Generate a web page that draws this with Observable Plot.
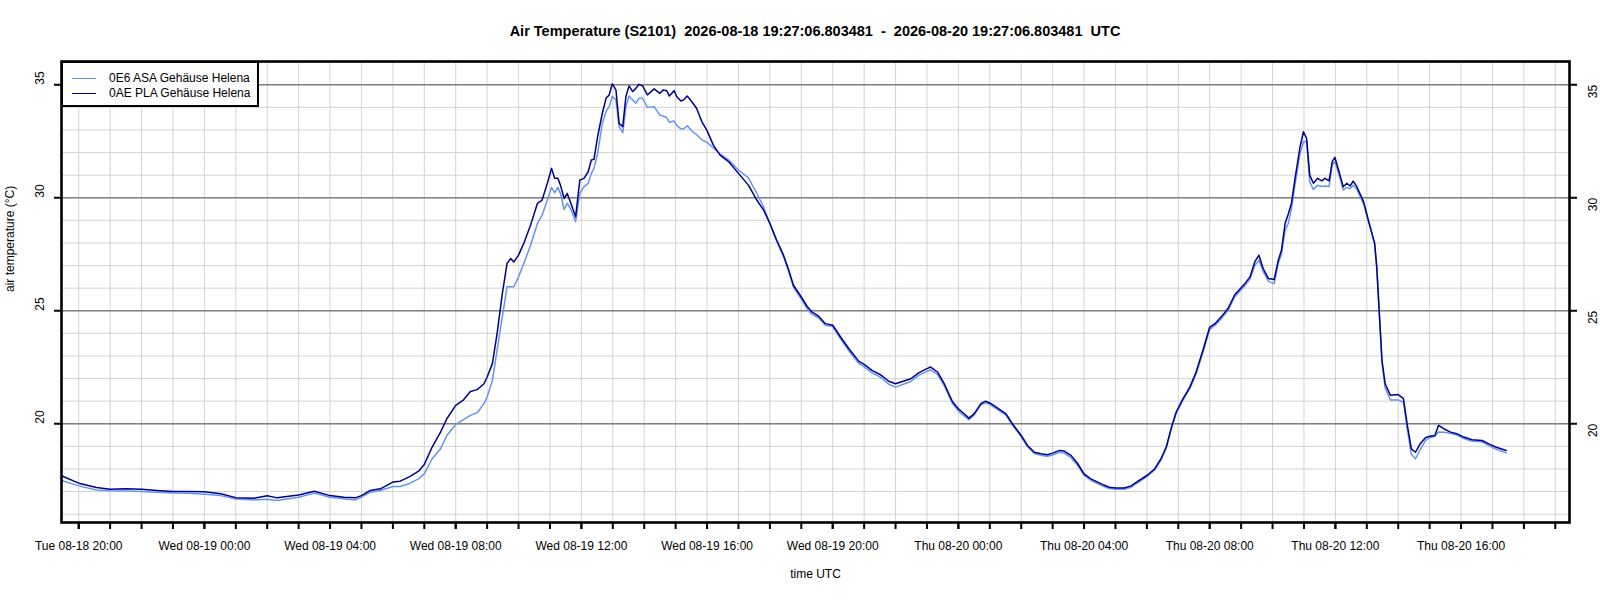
<!DOCTYPE html>
<html>
<head>
<meta charset="utf-8">
<script src="https://cdn.jsdelivr.net/npm/d3@7"></script>
<script src="https://cdn.jsdelivr.net/npm/@observablehq/plot@0.6"></script>
<style>
  body { margin: 0; background: #fff; font-family: "Liberation Sans", Arial, sans-serif; }
  #wrap { position: relative; width: 1600px; height: 600px; }
  #title { height: 48px; box-sizing: border-box; padding: 24px 31px 0 61px; font: bold 14.5px "Liberation Sans", Arial, sans-serif; line-height: 14px; text-align: center; white-space: pre; color: #000; }
  #legend { position: absolute; left: 61px; top: 61px; width: 198px; height: 46px; box-sizing: border-box; border: 2px solid #000; background: #fff; padding-top: 8px; font: 12px "Liberation Sans", Arial, sans-serif; }
  #legend .row { height: 15px; line-height: 15px; display: flex; align-items: center; }
  #legend .sw { display: inline-block; width: 24px; height: 0; border-top: 1.6px solid; margin-left: 9px; margin-right: 13px; }
</style>
</head>
<body>
<div id="wrap">
  <div id="title"></div>
  <div id="chart"></div>
  <div id="legend"></div>
</div>
<script>
const titleText = "Air Temperature (S2101)  2026-08-18 19:27:06.803481  -  2026-08-20 19:27:06.803481  UTC";
const seriesNames = ["0E6 ASA Gehäuse Helena", "0AE PLA Gehäuse Helena"];
const seriesColors = ["#6495ED", "#00008B"];
const yLabel = "air temperature (°C)";
const xLabel = "time UTC";
const domainStart = "2026-08-18T19:27:06.803Z";
const domainEnd = "2026-08-20T19:27:06.803Z";
const yDomain = [15.63, 36.03];
const yMajorTicks = [20, 25, 30, 35];

const times = [
  "2026-08-18T19:27","2026-08-18T20:00","2026-08-18T20:34","2026-08-18T21:00","2026-08-18T21:30","2026-08-18T22:00","2026-08-18T22:30","2026-08-18T23:00","2026-08-18T23:30",
  "2026-08-19T00:00","2026-08-19T00:31","2026-08-19T01:00","2026-08-19T01:34","2026-08-19T02:00","2026-08-19T02:19","2026-08-19T03:00","2026-08-19T03:30","2026-08-19T04:00",
  "2026-08-19T04:26","2026-08-19T04:48","2026-08-19T05:00","2026-08-19T05:17","2026-08-19T05:36","2026-08-19T06:00","2026-08-19T06:14","2026-08-19T06:33","2026-08-19T06:49",
  "2026-08-19T07:00","2026-08-19T07:15","2026-08-19T07:31","2026-08-19T07:43","2026-08-19T08:00","2026-08-19T08:15","2026-08-19T08:28","2026-08-19T08:41","2026-08-19T08:54",
  "2026-08-19T09:00","2026-08-19T09:10","2026-08-19T09:19","2026-08-19T09:29","2026-08-19T09:38","2026-08-19T09:45","2026-08-19T09:51","2026-08-19T10:00","2026-08-19T10:10",
  "2026-08-19T10:23","2026-08-19T10:36","2026-08-19T10:45","2026-08-19T10:55","2026-08-19T11:03","2026-08-19T11:09","2026-08-19T11:15","2026-08-19T11:20","2026-08-19T11:27",
  "2026-08-19T11:33","2026-08-19T11:40","2026-08-19T11:49","2026-08-19T11:57","2026-08-19T12:05","2026-08-19T12:13","2026-08-19T12:19","2026-08-19T12:24","2026-08-19T12:31",
  "2026-08-19T12:40","2026-08-19T12:47","2026-08-19T12:53","2026-08-19T12:59","2026-08-19T13:06","2026-08-19T13:12","2026-08-19T13:19","2026-08-19T13:25","2026-08-19T13:31",
  "2026-08-19T13:38","2026-08-19T13:44","2026-08-19T13:50","2026-08-19T13:57","2026-08-19T14:06","2026-08-19T14:19","2026-08-19T14:30","2026-08-19T14:36","2026-08-19T14:43",
  "2026-08-19T14:48","2026-08-19T14:57","2026-08-19T15:02","2026-08-19T15:10","2026-08-19T15:15","2026-08-19T15:22","2026-08-19T15:31","2026-08-19T15:40","2026-08-19T15:50",
  "2026-08-19T16:00","2026-08-19T16:12","2026-08-19T16:25","2026-08-19T16:41","2026-08-19T17:00","2026-08-19T17:19","2026-08-19T17:35","2026-08-19T17:48","2026-08-19T18:00",
  "2026-08-19T18:13","2026-08-19T18:26","2026-08-19T18:36","2026-08-19T18:45","2026-08-19T19:00","2026-08-19T19:11","2026-08-19T19:20","2026-08-19T19:33","2026-08-19T19:46",
  "2026-08-19T20:00","2026-08-19T20:15","2026-08-19T20:31","2026-08-19T20:50","2026-08-19T21:00","2026-08-19T21:15","2026-08-19T21:31","2026-08-19T21:47","2026-08-19T22:00",
  "2026-08-19T22:16","2026-08-19T22:29","2026-08-19T22:45","2026-08-19T23:00","2026-08-19T23:07","2026-08-19T23:20","2026-08-19T23:33","2026-08-19T23:49",
  "2026-08-20T00:00","2026-08-20T00:11","2026-08-20T00:20","2026-08-20T00:30","2026-08-20T00:43","2026-08-20T00:52","2026-08-20T01:00","2026-08-20T01:15","2026-08-20T01:31",
  "2026-08-20T01:43","2026-08-20T02:00","2026-08-20T02:12","2026-08-20T02:25","2026-08-20T02:38","2026-08-20T02:50","2026-08-20T03:00","2026-08-20T03:13","2026-08-20T03:22",
  "2026-08-20T03:35","2026-08-20T03:48","2026-08-20T04:00","2026-08-20T04:13","2026-08-20T04:33","2026-08-20T04:48","2026-08-20T05:00","2026-08-20T05:17","2026-08-20T05:30",
  "2026-08-20T05:43","2026-08-20T06:00","2026-08-20T06:15","2026-08-20T06:27","2026-08-20T06:37","2026-08-20T06:47","2026-08-20T06:56","2026-08-20T07:09","2026-08-20T07:22",
  "2026-08-20T07:34","2026-08-20T07:47","2026-08-20T08:00","2026-08-20T08:10","2026-08-20T08:22","2026-08-20T08:35","2026-08-20T08:48","2026-08-20T08:57","2026-08-20T09:07",
  "2026-08-20T09:17","2026-08-20T09:26","2026-08-20T09:34","2026-08-20T09:42","2026-08-20T09:52","2026-08-20T10:03","2026-08-20T10:11","2026-08-20T10:17","2026-08-20T10:24",
  "2026-08-20T10:30","2026-08-20T10:36","2026-08-20T10:43","2026-08-20T10:52","2026-08-20T10:59","2026-08-20T11:05","2026-08-20T11:11","2026-08-20T11:18","2026-08-20T11:26",
  "2026-08-20T11:34","2026-08-20T11:40","2026-08-20T11:48","2026-08-20T11:54","2026-08-20T11:59","2026-08-20T12:06","2026-08-20T12:15","2026-08-20T12:22","2026-08-20T12:28",
  "2026-08-20T12:34","2026-08-20T12:41","2026-08-20T12:54","2026-08-20T13:03","2026-08-20T13:15","2026-08-20T13:19","2026-08-20T13:24","2026-08-20T13:29","2026-08-20T13:35",
  "2026-08-20T13:45","2026-08-20T14:00","2026-08-20T14:10","2026-08-20T14:17","2026-08-20T14:25","2026-08-20T14:33","2026-08-20T14:42","2026-08-20T14:52","2026-08-20T15:00",
  "2026-08-20T15:10","2026-08-20T15:17","2026-08-20T15:27","2026-08-20T15:40","2026-08-20T15:52","2026-08-20T16:05","2026-08-20T16:21","2026-08-20T16:40","2026-08-20T16:53",
  "2026-08-20T17:06","2026-08-20T17:26"
];

const asa = [
  17.49,17.25,17.07,17.03,17.02,17.00,16.97,16.93,16.92,
  16.88,16.82,16.67,16.63,16.66,16.60,16.75,16.93,16.75,
  16.68,16.63,16.75,16.97,17.05,17.22,17.22,17.37,17.56,
  17.78,18.45,18.89,19.48,19.97,20.18,20.37,20.49,20.89,
  21.18,21.92,23.25,24.73,26.06,26.06,26.06,26.50,27.09,
  27.90,28.86,29.23,29.90,30.46,30.22,30.46,30.19,29.48,
  29.75,29.48,28.94,30.19,30.49,30.64,31.08,31.30,31.96,
  33.29,33.81,34.03,34.48,34.33,33.15,32.88,34.03,34.50,
  34.33,34.18,34.40,34.40,34.00,34.03,33.66,33.62,33.55,
  33.34,33.40,33.20,33.05,33.04,33.19,32.95,32.80,32.56,
  32.45,32.20,31.93,31.68,31.23,30.88,30.20,29.60,28.86,
  28.08,27.40,26.74,26.05,25.52,25.10,24.85,24.68,24.36,
  24.30,23.76,23.22,22.66,22.52,22.25,22.06,21.75,21.62,
  21.76,21.87,22.15,22.32,22.38,22.18,21.68,20.88,
  20.56,20.35,20.18,20.38,20.84,20.93,20.86,20.62,20.37,
  19.95,19.42,18.98,18.68,18.60,18.56,18.62,18.74,18.70,
  18.50,18.15,17.72,17.50,17.27,17.13,17.10,17.10,17.19,
  17.40,17.66,17.96,18.40,18.92,19.80,20.46,21.05,21.55,
  22.20,23.15,24.18,24.35,24.65,25.02,25.62,25.85,26.10,
  26.40,27.00,27.24,26.75,26.30,26.20,27.10,27.50,28.55,
  28.86,29.50,30.60,31.90,32.48,32.50,30.70,30.37,30.55,
  30.50,30.52,30.50,31.45,31.60,31.10,30.35,30.45,30.40,
  30.55,30.38,29.72,28.95,27.95,26.90,24.80,22.70,21.60,
  21.05,21.05,20.95,19.80,18.65,18.45,18.85,19.25,19.38,
  19.45,19.63,19.62,19.58,19.50,19.35,19.22,19.20,19.03,
  18.88,18.71
];

const pla = [
  17.70,17.37,17.18,17.10,17.12,17.10,17.05,17.00,17.00,
  16.99,16.90,16.73,16.70,16.81,16.72,16.85,17.01,16.82,
  16.75,16.72,16.82,17.05,17.12,17.42,17.46,17.67,17.90,
  18.20,18.97,19.63,20.22,20.81,21.06,21.43,21.51,21.77,
  22.07,22.66,23.99,25.76,27.09,27.31,27.16,27.46,27.98,
  28.79,29.75,29.90,30.64,31.30,30.86,30.86,30.56,29.97,
  30.19,29.75,29.16,30.78,30.86,31.15,31.67,31.70,32.70,
  33.74,34.40,34.55,35.04,34.77,33.29,33.15,34.48,34.95,
  34.70,34.84,35.02,34.95,34.55,34.82,34.62,34.77,34.74,
  34.50,34.74,34.48,34.28,34.33,34.50,34.25,33.96,33.37,
  32.97,32.33,31.89,31.60,31.08,30.56,29.90,29.45,28.86,
  28.12,27.46,26.79,26.13,25.61,25.20,24.95,24.76,24.43,
  24.36,23.84,23.32,22.76,22.63,22.36,22.17,21.88,21.77,
  21.89,21.99,22.26,22.44,22.51,22.29,21.77,20.96,
  20.66,20.44,20.25,20.44,20.89,21.00,20.92,20.69,20.44,
  20.00,19.48,19.04,18.74,18.67,18.63,18.70,18.82,18.79,
  18.60,18.23,17.78,17.56,17.34,17.19,17.16,17.16,17.25,
  17.46,17.71,18.01,18.45,18.97,19.85,20.52,21.11,21.62,
  22.29,23.25,24.28,24.43,24.73,25.10,25.72,25.94,26.20,
  26.50,27.16,27.46,26.87,26.43,26.38,27.24,27.68,28.86,
  29.28,29.75,30.86,32.19,32.92,32.63,31.00,30.64,30.86,
  30.75,30.86,30.75,31.60,31.79,31.23,30.49,30.64,30.52,
  30.74,30.49,29.82,29.01,27.98,26.94,24.87,22.81,21.77,
  21.26,21.29,21.11,20.00,18.89,18.74,19.11,19.38,19.45,
  19.48,19.93,19.78,19.63,19.56,19.41,19.29,19.26,19.11,
  18.97,18.82
];

// build table for the library
const rows = [];
[asa, pla].forEach((vals, s) => {
  times.forEach((t, i) => rows.push({time: new Date(t + ":00Z"), value: vals[i], series: seriesNames[s]}));
});

const x0 = new Date(domainStart), x1 = new Date(domainEnd);
const hourTicks = d3.utcHour.range(d3.utcHour.ceil(x0), x1);
const labelTicks = hourTicks.filter(d => d.getUTCHours() % 4 === 0);
const fmt = d3.utcFormat("%a %m-%d %H:%M");
const yMinor = d3.range(Math.ceil(yDomain[0]), Math.floor(yDomain[1]) + 1);
const font = "Liberation Sans, Arial, sans-serif";

document.getElementById("title").textContent = titleText;

const chart = Plot.plot({
  width: 1600,
  height: 552,
  marginTop: 13,
  marginBottom: 78,
  marginLeft: 61,
  marginRight: 31,
  style: {fontFamily: font, fontSize: "12px", color: "#000", background: "#fff", overflow: "visible"},
  x: {type: "utc", domain: [x0, x1]},
  y: {domain: yDomain},
  color: {domain: seriesNames, range: seriesColors},
  marks: [
    Plot.gridX(hourTicks, {stroke: "#d3d3d3", strokeOpacity: 1, strokeWidth: 1}),
    Plot.gridY(yMinor, {stroke: "#d3d3d3", strokeOpacity: 1, strokeWidth: 1}),
    Plot.gridY(yMajorTicks, {stroke: "#808080", strokeOpacity: 1, strokeWidth: 1.4}),
    Plot.line(rows, {x: "time", y: "value", z: "series", stroke: "series", strokeWidth: 1.5}),
    Plot.frame({stroke: "#000", strokeWidth: 2.6}),
    Plot.axisX(hourTicks, {tickSize: 7, strokeWidth: 2, tickFormat: () => "", label: null}),
    Plot.axisX(labelTicks, {tickSize: 7, strokeWidth: 2, tickPadding: 12, tickFormat: fmt, fontSize: 12, label: null}),
    Plot.axisY(yMajorTicks, {anchor: "left", tickSize: 7, strokeWidth: 2, tickFormat: () => "", label: null}),
    Plot.axisY(yMajorTicks, {anchor: "right", tickSize: 7, strokeWidth: 2, tickFormat: () => "", label: null}),
    Plot.text(yMajorTicks, {y: d => d, text: d => String(d), frameAnchor: "left", dx: -21, rotate: -90, fontSize: 12}),
    Plot.text(yMajorTicks, {y: d => d, text: d => String(d), frameAnchor: "right", dx: 24, rotate: -90, fontSize: 12}),
    Plot.text([yLabel], {text: d => d, frameAnchor: "left", dx: -51, rotate: -90, fontSize: 12}),
    Plot.text([xLabel], {text: d => d, frameAnchor: "bottom", dy: 55, fontSize: 12})
  ]
});
document.getElementById("chart").appendChild(chart);

const legend = document.getElementById("legend");
seriesNames.forEach((name, i) => {
  const row = document.createElement("div");
  row.className = "row";
  const sw = document.createElement("span");
  sw.className = "sw";
  sw.style.borderTopColor = seriesColors[i];
  const label = document.createElement("span");
  label.textContent = name;
  row.appendChild(sw);
  row.appendChild(label);
  legend.appendChild(row);
});
</script>
</body>
</html>
